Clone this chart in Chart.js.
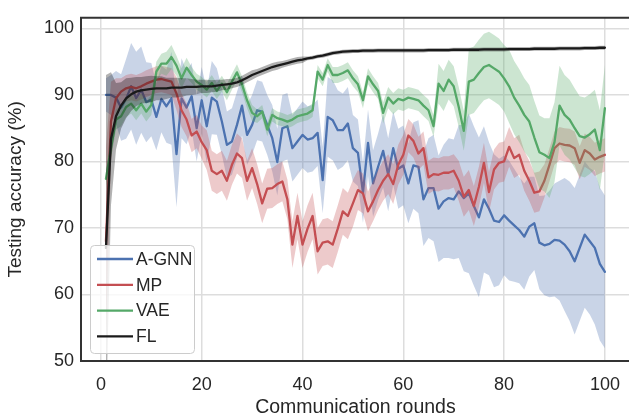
<!DOCTYPE html>
<html>
<head>
<meta charset="utf-8">
<script src="https://cdn.jsdelivr.net/npm/chart.js@4.4.0/dist/chart.umd.min.js"></script>
<style>
  html, body { margin: 0; padding: 0; background: #fff; overflow: hidden; width: 629px; height: 419px; }
  #wrap { position: relative; width: 633px; height: 419px; }
</style>
</head>
<body>
<div id="wrap"><canvas id="c" width="633" height="419"></canvas></div>
<script>
// Communication rounds 1..100
const rounds = Array.from({ length: 100 }, (_, i) => i + 1);

const xTicks = [0, 20, 40, 60, 80, 100];
const yTicks = [50, 60, 70, 80, 90, 100];

// Mean testing accuracy (%) per round
const aGnnMean = [
  90.0, 90.0, 89.6, 88.1, 89.4, 91.3, 89.5, 90.8, 88.9, 89.3,
  86.7, 89.4, 88.3, 89.5, 81.1, 89.5, 88.1, 89.8, 85.0, 89.2,
  85.3, 89.6, 89.0, 86.0, 82.5, 83.0, 85.5, 88.4, 84.0, 85.5,
  87.7, 87.5, 85.5, 83.5, 79.9, 85.0, 85.3, 82.0, 83.0, 84.0,
  83.3, 83.5, 84.3, 77.2, 86.7, 86.2, 84.7, 84.7, 85.7, 82.0,
  81.3, 75.3, 82.8, 76.7, 79.2, 81.6, 78.0, 82.0, 78.9, 79.4,
  76.7, 79.4, 79.2, 74.3, 76.0, 76.0, 72.9, 74.0, 74.5, 74.3,
  75.5, 74.5, 75.2, 73.3, 71.6, 74.3, 72.9, 71.1, 70.9, 71.9,
  71.1, 70.4, 69.7, 68.7, 70.2, 70.7, 67.8, 67.4, 67.6, 68.2,
  68.1, 67.5, 66.5, 65.0, 67.0, 69.0, 68.0, 67.0, 64.6, 63.4
];
const mpMean = [
  68.0, 86.0, 89.5, 90.5, 91.0, 91.2, 91.0, 91.3, 91.7, 92.0,
  92.3, 92.4, 92.2, 92.0, 90.2, 87.7, 86.3, 83.9, 84.5, 82.9,
  81.7, 78.6, 78.1, 78.6, 77.1, 79.5, 81.2, 80.5, 77.1, 79.0,
  76.6, 73.7, 75.9, 76.0, 76.6, 77.0, 74.3, 67.5, 71.8, 67.5,
  69.9, 71.8, 66.5, 67.8, 68.0, 67.5, 69.9, 72.5, 71.8, 73.7,
  75.7, 75.2, 72.5, 74.0, 75.7, 77.1, 78.1, 76.6, 79.5, 81.0,
  83.9, 83.1, 81.2, 82.0, 77.6, 78.1, 78.0, 78.3, 78.3, 78.6,
  77.1, 74.7, 75.7, 73.3, 76.2, 79.8, 75.4, 78.8, 79.8, 80.0,
  82.2, 80.5, 81.0, 78.6, 77.1, 75.3, 75.5, 77.1, 79.5, 82.0,
  82.7, 82.5, 82.4, 82.0, 79.8, 81.7, 81.2, 80.3, 80.7, 81.0
];
const vaeMean = [
  77.4, 82.0, 86.3, 86.8, 88.2, 88.7, 87.7, 88.7, 87.5, 88.5,
  93.5, 94.7, 94.7, 95.7, 94.4, 92.5, 94.1, 93.0, 92.0, 91.5,
  90.8, 91.8, 90.6, 91.7, 90.4, 92.0, 93.4, 91.6, 89.2, 87.3,
  86.8, 87.5, 84.8, 87.0, 86.5, 86.3, 86.0, 86.3, 86.8, 87.0,
  87.2, 87.7, 93.5, 92.3, 94.5, 93.0, 93.0, 93.3, 93.7, 92.5,
  91.6, 89.2, 92.8, 91.6, 90.6, 87.3, 89.6, 88.7, 89.4, 89.2,
  89.6, 89.4, 89.2, 88.4, 87.7, 85.3, 91.7, 90.6, 92.3, 91.3,
  88.2, 84.6, 92.0, 92.3, 93.3, 94.2, 94.5, 94.0, 93.5, 92.5,
  91.3, 89.6, 88.4, 87.0, 86.0, 83.6, 81.4, 81.0, 80.5, 82.9,
  88.4, 87.0, 86.3, 85.0, 83.8, 83.6, 84.1, 84.8, 81.7, 88.0
];
const flMean = [
  67.0, 83.4, 86.8, 88.4, 89.5, 90.1, 90.5, 90.7, 90.8, 90.9,
  91.0, 91.0, 91.0, 91.1, 91.1, 91.1, 91.2, 91.2, 91.2, 91.3,
  91.3, 91.3, 91.4, 91.5, 91.6, 91.7, 91.9, 92.2, 92.6, 93.0,
  93.3, 93.6, 93.9, 94.2, 94.4, 94.6, 94.8, 95.0, 95.2, 95.3,
  95.5, 95.6, 95.8, 95.9, 96.1, 96.3, 96.4, 96.5, 96.55, 96.6,
  96.6, 96.65, 96.65, 96.65, 96.7, 96.7, 96.7, 96.7, 96.7, 96.7,
  96.7, 96.7, 96.7, 96.7, 96.75, 96.75, 96.75, 96.75, 96.75, 96.8,
  96.8, 96.8, 96.8, 96.8, 96.8, 96.85, 96.85, 96.85, 96.85, 96.85,
  96.9, 96.9, 96.9, 96.9, 96.9, 96.95, 96.95, 96.95, 96.95, 96.95,
  97.0, 97.0, 97.0, 97.0, 97.0, 97.05, 97.05, 97.05, 97.1, 97.1
];

// Half-width of the shaded spread around each mean
const aGnnSpread = [
  2.5, 3.0, 4.0, 5.0, 6.0, 6.5, 7.0, 6.5, 6.0, 5.5,
  5.0, 5.0, 5.5, 7.0, 8.0, 6.0, 5.5, 5.0, 5.0, 5.0,
  5.5, 5.5, 5.0, 5.0, 5.0, 5.0, 5.0, 4.5, 4.5, 4.5,
  4.5, 4.5, 4.5, 5.0, 5.0, 5.0, 5.0, 5.0, 5.0, 5.0,
  5.0, 5.0, 5.0, 5.0, 6.0, 6.0, 6.0, 5.5, 5.5, 5.0,
  5.0, 4.5, 5.0, 5.0, 5.0, 5.5, 5.5, 5.5, 6.0, 6.0,
  6.0, 6.5, 7.0, 7.0, 7.5, 8.0, 8.0, 8.5, 9.0, 9.0,
  10.0, 11.0, 12.0, 12.0, 12.0, 11.0, 10.0, 10.0, 9.5, 9.0,
  9.0, 8.5, 8.0, 8.0, 7.5, 7.0, 7.0, 7.5, 8.0, 8.5,
  9.0, 10.0, 10.5, 11.0, 11.0, 11.0, 11.0, 11.5, 11.5, 11.5
];
const mpSpread = [
  14.0, 6.0, 3.0, 2.0, 2.0, 2.0, 2.0, 2.0, 2.0, 2.0,
  2.0, 2.0, 2.0, 2.0, 2.5, 2.5, 2.5, 2.5, 2.5, 2.5,
  3.0, 3.0, 3.0, 3.0, 3.0, 3.0, 3.0, 3.0, 3.0, 3.0,
  3.0, 3.0, 3.0, 3.0, 3.0, 3.0, 3.0, 3.5, 3.5, 3.5,
  3.5, 3.5, 3.5, 3.5, 3.5, 3.5, 3.5, 3.5, 3.5, 3.5,
  3.0, 3.0, 3.0, 3.0, 3.0, 3.0, 3.0, 3.0, 3.0, 3.0,
  2.5, 2.5, 2.5, 2.5, 2.5, 2.5, 2.5, 2.5, 2.5, 2.5,
  3.0, 3.0, 3.0, 3.0, 3.0, 3.0, 3.0, 3.0, 3.0, 3.0,
  3.0, 3.0, 3.0, 3.0, 3.0, 3.0, 3.0, 2.5, 2.5, 2.5,
  2.5, 2.5, 2.5, 2.5, 2.5, 2.5, 2.5, 2.5, 2.5, 2.5
];
const vaeSpread = [
  1.0, 1.5, 1.5, 1.5, 1.5, 1.5, 1.5, 1.5, 1.5, 1.5,
  1.5, 1.5, 1.8, 1.8, 1.5, 1.5, 1.5, 1.2, 1.2, 1.2,
  1.2, 1.2, 1.2, 1.2, 1.2, 1.2, 1.2, 1.2, 1.2, 1.2,
  1.0, 1.0, 1.0, 1.0, 1.0, 1.0, 1.0, 1.0, 1.0, 1.0,
  1.0, 1.0, 1.0, 1.0, 1.0, 1.2, 1.2, 1.2, 1.2, 1.2,
  1.2, 1.2, 1.2, 1.2, 1.2, 1.6, 1.6, 1.6, 1.6, 1.6,
  1.6, 1.6, 1.6, 1.6, 1.6, 1.6, 3.0, 3.0, 3.0, 3.0,
  3.0, 3.0, 5.0, 5.0, 5.0, 5.0, 5.0, 5.0, 5.0, 5.0,
  5.5, 5.5, 5.5, 5.5, 5.5, 5.5, 5.5, 5.5, 6.0, 6.0,
  6.0, 6.0, 6.0, 6.0, 6.0, 6.0, 6.0, 6.0, 6.0, 6.5
];
const flSpread = [
  26.0, 10.0, 5.0, 3.5, 3.0, 2.5, 2.2, 2.0, 2.0, 2.0,
  1.8, 1.8, 1.6, 1.5, 1.5, 1.4, 1.3, 1.2, 1.1, 1.0,
  1.0, 0.9, 0.9, 0.8, 0.8, 0.7, 0.7, 0.7, 0.7, 0.7,
  0.6, 0.6, 0.6, 0.6, 0.6, 0.5, 0.5, 0.5, 0.5, 0.5,
  0.3, 0.3, 0.3, 0.3, 0.3, 0.3, 0.3, 0.3, 0.3, 0.3,
  0.3, 0.3, 0.3, 0.3, 0.3, 0.3, 0.3, 0.3, 0.3, 0.3,
  0.3, 0.3, 0.3, 0.3, 0.3, 0.3, 0.3, 0.3, 0.3, 0.3,
  0.3, 0.3, 0.3, 0.3, 0.3, 0.3, 0.3, 0.3, 0.3, 0.3,
  0.3, 0.3, 0.3, 0.3, 0.3, 0.3, 0.3, 0.3, 0.3, 0.3,
  0.3, 0.3, 0.3, 0.3, 0.3, 0.3, 0.3, 0.3, 0.3, 0.3
];

const seriesNames = ['A-GNN', 'MP', 'VAE', 'FL'];
const seriesColors = ['#4C72B0', '#C44E52', '#55A868', '#1a1a1a'];
const bandColors = ['rgba(76,114,176,0.30)', 'rgba(196,78,82,0.30)', 'rgba(85,168,104,0.30)', 'rgba(0,0,0,0.30)'];
const means = [aGnnMean, mpMean, vaeMean, flMean];
const spreads = [aGnnSpread, mpSpread, vaeSpread, flSpread];

const FONT = '"Liberation Sans", Arial, Helvetica, sans-serif';
const TEXT = '#262626';

const pts = (arr) => arr.map((v, i) => ({ x: rounds[i], y: v }));

// Each series: lower edge, upper edge filled to lower, then the mean line on top.
const datasets = [];
seriesNames.forEach((name, s) => {
  const base = datasets.length;
  const layer = (seriesNames.length - s) * 3;
  datasets.push({
    label: name + ' lower', data: pts(means[s].map((m, i) => m - spreads[s][i])),
    borderWidth: 0, pointRadius: 0, fill: false, order: layer
  });
  datasets.push({
    label: name + ' upper', data: pts(means[s].map((m, i) => m + spreads[s][i])),
    borderWidth: 0, pointRadius: 0, fill: { target: base }, backgroundColor: bandColors[s],
    order: layer - 1
  });
  datasets.push({
    label: name, data: pts(means[s]), borderColor: seriesColors[s], borderWidth: 2.3,
    pointRadius: 0, fill: false, tension: 0, order: layer - 2,
    borderJoinStyle: 'round', borderCapStyle: 'round'
  });
});

// Axes frame (left, top, bottom) drawn over the data
const framePlugin = {
  id: 'frame',
  afterDatasetsDraw(chart) {
    const { ctx, chartArea: a } = chart;
    ctx.save();
    ctx.strokeStyle = '#333';
    ctx.lineWidth = 2;
    ctx.beginPath();
    ctx.moveTo(a.right + 5, a.top);
    ctx.lineTo(a.left, a.top);
    ctx.lineTo(a.left, a.bottom);
    ctx.lineTo(a.right + 5, a.bottom);
    ctx.stroke();
    ctx.restore();
  }
};

// Legend box in the lower-left corner of the plot
const legendPlugin = {
  id: 'cornerLegend',
  afterDraw(chart) {
    const { ctx, chartArea: a } = chart;
    const x = a.left + 9, w = 104, h = 108;
    const y = a.bottom - 8 - h;
    ctx.save();
    ctx.beginPath();
    if (ctx.roundRect) ctx.roundRect(x + 0.5, y + 0.5, w, h, 4); else ctx.rect(x + 0.5, y + 0.5, w, h);
    ctx.fillStyle = 'rgba(255,255,255,0.8)';
    ctx.fill();
    ctx.strokeStyle = '#cccccc';
    ctx.lineWidth = 1;
    ctx.stroke();
    ctx.font = '17.5px ' + FONT;
    ctx.textBaseline = 'middle';
    ctx.fillStyle = TEXT;
    seriesNames.forEach((name, i) => {
      const cy = y + 14 + i * 25.8;
      ctx.strokeStyle = seriesColors[i];
      ctx.lineWidth = 2.3;
      ctx.beginPath();
      ctx.moveTo(x + 7, cy);
      ctx.lineTo(x + 43, cy);
      ctx.stroke();
      ctx.fillText(name, x + 46, cy + 1);
    });
    ctx.restore();
  }
};

new Chart(document.getElementById('c'), {
  type: 'line',
  data: { datasets },
  options: {
    responsive: false,
    animation: false,
    devicePixelRatio: 1,
    events: [],
    layout: { padding: { left: 0, top: 4, right: 2, bottom: 0 } },
    plugins: { legend: { display: false }, tooltip: { enabled: false } },
    scales: {
      x: {
        type: 'linear', min: -3.95, max: 104.95,
        afterBuildTicks: (s) => { s.ticks = xTicks.map(v => ({ value: v })); },
        afterFit: (s) => { s.height = 58; },
        grid: { color: '#dddddd', lineWidth: 1.5, drawTicks: false },
        border: { display: false },
        ticks: { color: TEXT, font: { family: FONT, size: 18 }, padding: 13, maxRotation: 0 },
        title: { display: true, text: 'Communication rounds', color: TEXT,
                 font: { family: FONT, size: 19.5 }, padding: { top: 0, bottom: 0 } }
      },
      y: {
        type: 'linear', min: 50, max: 101.6,
        afterBuildTicks: (s) => { s.ticks = yTicks.map(v => ({ value: v })); },
        afterFit: (s) => { s.width = 81; },
        grid: { color: '#dddddd', lineWidth: 1.5, drawTicks: false },
        border: { display: false },
        ticks: { color: TEXT, font: { family: FONT, size: 18 }, padding: 7 },
        title: { display: true, text: 'Testing accuracy (%)', color: TEXT,
                 font: { family: FONT, size: 19 }, padding: { top: 4, bottom: 0 } }
      }
    }
  },
  plugins: [framePlugin, legendPlugin]
});
</script>
</body>
</html>
